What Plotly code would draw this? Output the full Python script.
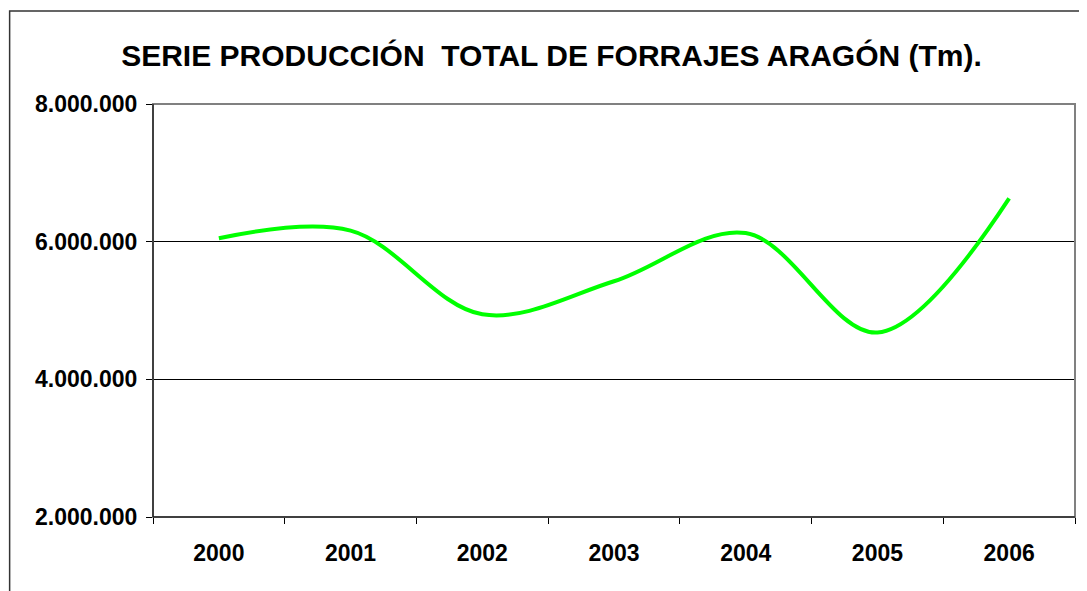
import plotly.graph_objects as go

# Datos (Tm)
years = ["2000", "2001", "2002", "2003", "2004", "2005", "2006"]
production = [6050000, 6160000, 4945000, 5425000, 6125000, 4680000, 6630000]

y_ticks = [2000000, 4000000, 6000000, 8000000]

font_family = "Liberation Sans, Arial, sans-serif"

fig = go.Figure()
fig.add_trace(go.Scatter(
    x=years, y=production, mode="lines",
    line=dict(color="#00FF00", width=4, shape="spline", smoothing=1),
    showlegend=False, hoverinfo="x+y",
))

# la página añade 8px de margen al cuerpo: se compensa en los márgenes
fig.update_layout(
    width=1087, height=591,
    margin=dict(l=145, r=20, t=96, b=82),
    paper_bgcolor="white", plot_bgcolor="white",
    separators=",.",
    font=dict(family=font_family, size=23, color="black", weight="bold"),
    title=dict(
        text="SERIE PRODUCCIÓN\u00a0 TOTAL DE FORRAJES ARAGÓN (Tm).",
        x=0.5, xanchor="center", y=0.919, yanchor="middle",
        font=dict(family=font_family, size=30, color="black", weight="bold"),
    ),
)

fig.update_xaxes(
    type="category", range=[-0.5, 6.5],
    showline=True, linecolor="black", linewidth=1,
    ticks="outside", tickson="boundaries", ticklen=6, tickcolor="black",
    showgrid=False, ticklabelstandoff=15,
    tickfont=dict(family=font_family, size=23, color="black", weight="bold"),
)
fig.update_yaxes(
    range=[2000000, 8000000], tickvals=y_ticks, tickformat=",d",
    showline=True, linecolor="black", linewidth=1,
    ticks="outside", ticklen=6, tickcolor="black",
    showgrid=True, gridcolor="black", gridwidth=1, zeroline=False,
    ticklabelstandoff=4,
    tickfont=dict(family=font_family, size=23, color="black", weight="bold"),
)

# Borde del área de trazado (gris) y marco exterior del gráfico
fig.add_shape(type="rect", xref="paper", yref="paper", x0=0, x1=1, y0=0, y1=1,
              line=dict(color="#808080", width=2), layer="above")
fig.add_shape(type="line", xref="paper", yref="paper", x0=0, x1=1, y0=0, y1=0,
              line=dict(color="black", width=1), layer="above")
fig.add_shape(type="line", xref="paper", yref="paper", x0=0, x1=0, y0=0, y1=1,
              line=dict(color="black", width=1), layer="above")
fig.add_shape(type="rect", xref="paper", yref="paper", x0=-0.1555, x1=1.05, y0=-0.3, y1=1.2252,
              line=dict(color="#333333", width=1.5), layer="below")

fig.write_html("out.html")
